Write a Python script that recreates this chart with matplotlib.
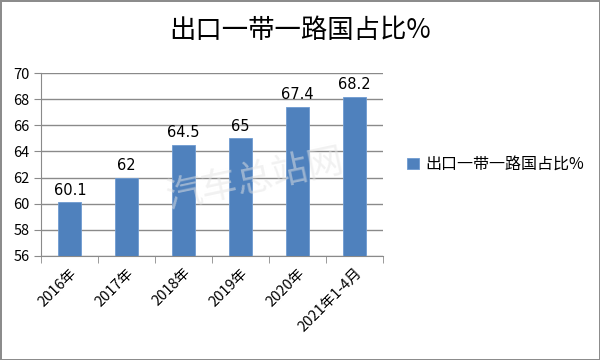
import matplotlib
matplotlib.use("Agg")
import matplotlib.pyplot as plt
import numpy as np

plt.rcParams['font.family'] = ['Noto Sans CJK SC', 'DejaVu Sans']

# data
categories = ["2016年", "2017年", "2018年", "2019年", "2020年", "2021年1-4月"]
values = [60.1, 62, 64.5, 65, 67.4, 68.2]
labels = ["60.1", "62", "64.5", "65", "67.4", "68.2"]
title = "出口一带一路国占比%"

fig = plt.figure(figsize=(6, 3.6), dpi=100)
fig.patch.set_edgecolor("#8c8c8c")
fig.patch.set_linewidth(2)
ax = fig.add_axes([0.069, 0.289, 0.569, 0.508])

x = np.arange(len(categories))
bars = ax.bar(x, values, width=0.4, color="#4f81bd", edgecolor="#6f9bd1",
              linewidth=0.6, zorder=3, label=title)
for xi, v, t in zip(x, values, labels):
    ax.text(xi, v + 0.35, t, ha="center", va="bottom", fontsize=10.5,
            family="DejaVu Sans", color="black")

ax.set_ylim(56, 70)
ax.set_xlim(-0.5, len(categories) - 0.5)
ax.set_yticks(np.arange(56, 71, 2))
ax.yaxis.grid(True, color="#8a8a8a", linewidth=1, zorder=0)
ax.set_xticks(x)
ax.set_xticklabels(categories, rotation=45, ha="right", rotation_mode="anchor",
                   fontsize=10.5)
ax.set_xticks(np.arange(-0.5, len(categories)), minor=True)
ax.tick_params(axis="x", which="major", length=0, pad=7)
ax.tick_params(axis="x", which="minor", length=5, color="#8a8a8a")
ax.tick_params(axis="y", length=5, color="#8a8a8a", labelsize=10.5)
for s in ["top", "right"]:
    ax.spines[s].set_visible(False)
for s in ["left", "bottom"]:
    ax.spines[s].set_color("#8a8a8a")

fig.text(0.5, 0.915, title, ha="center", va="center", fontsize=19,
         fontweight="medium")
ax.legend(loc="center left", bbox_to_anchor=(1.03, 0.5), frameon=False,
          fontsize=11.5, handlelength=0.7, handleheight=0.7, handletextpad=0.4)

# watermark
fig.text(0.425, 0.5, "汽车总站网", ha="center", va="center", fontsize=26,
         color="#e4e4e4", alpha=0.5, rotation=12, zorder=10)

fig.savefig("out.png", dpi=100, edgecolor=fig.patch.get_edgecolor())
